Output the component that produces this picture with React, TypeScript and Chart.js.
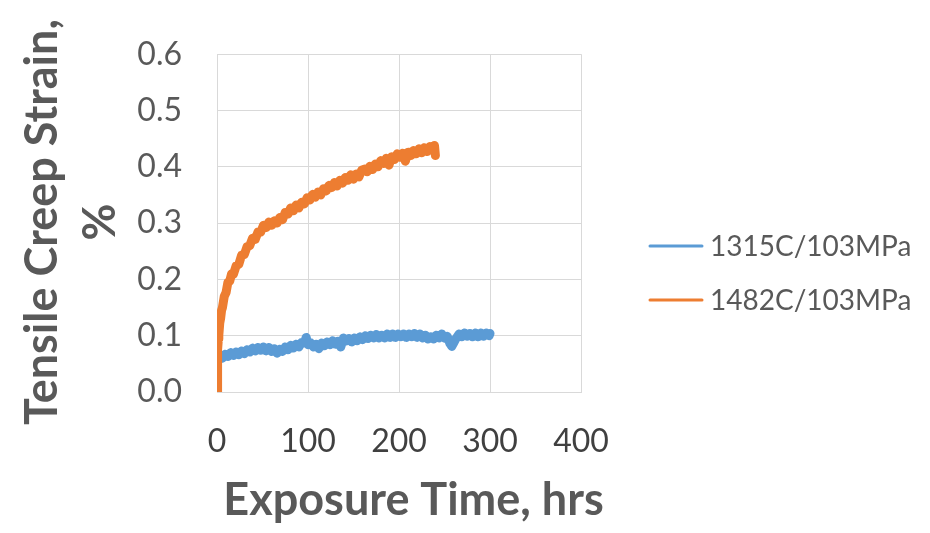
import React, { useEffect, useRef } from "react";
import { Chart, registerables } from "chart.js";

Chart.register(...registerables);

const seriesNames = ["1315C/103MPa", "1482C/103MPa"];
const seriesColors = ["#5B9BD5", "#ED7D31"];
const xTitle = "Exposure Time, hrs";
const yTitle = ["Tensile Creep Strain,", "%"];
const xTickValues = [0, 100, 200, 300, 400];
const yTickValues = [0, 0.1, 0.2, 0.3, 0.4, 0.5, 0.6];

// 1315C/103MPa (blue)
const blueHours = [
  1, 3, 6, 9, 12, 15, 18, 21, 24, 27, 30, 33, 36, 39, 42, 45, 48, 51, 54, 57,
  60, 63, 66, 69, 72, 75, 78, 81, 84, 87, 90, 93, 96, 98, 100, 103, 106, 109, 112, 115,
  118, 121, 124, 127, 130, 133, 136, 139, 142, 145, 148, 151, 154, 157, 160, 163, 166, 169, 172, 175,
  178, 181, 184, 187, 190, 193, 196, 199, 202, 205, 208, 211, 214, 217, 220, 223, 226, 229, 232, 235,
  238, 241, 244, 247, 250, 253, 256, 258, 260, 263, 266, 269, 272, 275, 278, 281, 284, 287, 290, 293,
  296, 299, 300,
];
const blueStrain = [
  0.055, 0.064, 0.06, 0.067, 0.063, 0.07, 0.065, 0.071, 0.066, 0.073, 0.068, 0.075, 0.071, 0.078, 0.073, 0.079, 0.074, 0.08, 0.073, 0.079,
  0.072, 0.077, 0.069, 0.076, 0.072, 0.08, 0.075, 0.083, 0.078, 0.085, 0.08, 0.088, 0.087, 0.097, 0.084, 0.087, 0.08, 0.085, 0.077, 0.087,
  0.082, 0.089, 0.084, 0.091, 0.085, 0.09, 0.08, 0.096, 0.091, 0.095, 0.089, 0.096, 0.091, 0.098, 0.093, 0.1, 0.095, 0.101, 0.096, 0.102,
  0.096, 0.101, 0.096, 0.103, 0.097, 0.103, 0.097, 0.103, 0.098, 0.103, 0.097, 0.103, 0.098, 0.104, 0.097, 0.103, 0.096, 0.101, 0.094, 0.098,
  0.094, 0.101, 0.096, 0.103, 0.096, 0.099, 0.086, 0.081, 0.087, 0.096, 0.103, 0.098, 0.105, 0.099, 0.104, 0.098, 0.105, 0.098, 0.105, 0.099,
  0.105, 0.1, 0.104,
];

// 1482C/103MPa (orange)
const orangeHours = [
  0, 0.3, 0.6, 1, 1.5, 2, 3, 4, 5, 6, 8, 10, 12, 14, 16, 18, 21, 24, 27, 30,
  33, 36, 39, 42, 45, 48, 51, 54, 57, 60, 63, 66, 69, 72, 75, 78, 81, 84, 87, 90,
  93, 96, 99, 102, 105, 108, 111, 114, 117, 120, 123, 126, 129, 132, 135, 138, 141, 144, 147, 150,
  153, 156, 159, 162, 165, 168, 171, 174, 177, 180, 183, 186, 189, 192, 195, 198, 201, 204, 207, 210,
  213, 216, 219, 222, 225, 228, 231, 234, 237, 239, 240,
];
const orangeStrain = [
  0, 0.03, 0.055, 0.075, 0.094, 0.101, 0.122, 0.131, 0.145, 0.15, 0.17, 0.177, 0.195, 0.197, 0.21, 0.209, 0.224, 0.227, 0.243, 0.244,
  0.258, 0.26, 0.273, 0.271, 0.284, 0.284, 0.296, 0.292, 0.302, 0.296, 0.304, 0.3, 0.31, 0.306, 0.319, 0.316, 0.327, 0.322, 0.332, 0.327,
  0.337, 0.334, 0.345, 0.341, 0.351, 0.346, 0.355, 0.35, 0.361, 0.357, 0.367, 0.363, 0.372, 0.366, 0.376, 0.371, 0.381, 0.376, 0.386, 0.378,
  0.387, 0.382, 0.394, 0.396, 0.391, 0.401, 0.395, 0.405, 0.4, 0.411, 0.406, 0.415, 0.403, 0.418, 0.413, 0.423, 0.417, 0.424, 0.41, 0.426,
  0.42, 0.429, 0.423, 0.432, 0.425, 0.434, 0.427, 0.436, 0.43, 0.438, 0.42,
];

const FONT = "Lato, 'Open Sans', sans-serif";
const GRID = "#d9d9d9";
const TITLE_COLOR = "#595959";

export default function App() {
  const canvasRef = useRef<HTMLCanvasElement>(null);

  useEffect(() => {
    const canvas = canvasRef.current;
    if (!canvas) return;

    const sideLegend = {
      id: "sideLegend",
      afterDraw(chart: any) {
        const ctx = chart.ctx as CanvasRenderingContext2D;
        const x0 = 650;
        const x1 = 702;
        const rows = [246, 300];
        ctx.save();
        ctx.font = `28px ${FONT}`;
        ctx.textBaseline = "middle";
        ctx.textAlign = "left";
        seriesNames.forEach((name, i) => {
          const y = rows[i];
          ctx.strokeStyle = seriesColors[i];
          ctx.lineWidth = 3;
          ctx.lineCap = "round";
          ctx.beginPath();
          ctx.moveTo(x0, y);
          ctx.lineTo(x1, y);
          ctx.stroke();
          ctx.fillStyle = "#595959";
          ctx.fillText(name, 710, y + 1);
        });
        ctx.restore();
      },
    };

    const axisTitles = {
      id: "axisTitles",
      afterDraw(chart: any) {
        const ctx = chart.ctx as CanvasRenderingContext2D;
        ctx.save();
        ctx.fillStyle = TITLE_COLOR;
        ctx.font = `bold 45px ${FONT}`;
        ctx.textAlign = "center";
        ctx.textBaseline = "alphabetic";
        ctx.fillText(xTitle, 413.5, 515);
        const baselines = [57, 115];
        yTitle.forEach((line, i) => {
          ctx.save();
          ctx.translate(baselines[i], 222);
          ctx.rotate(-Math.PI / 2);
          ctx.fillText(line, 0, 0);
          ctx.restore();
        });
        ctx.restore();
      },
    };

    const chart = new Chart(canvas, {
      type: "line",
      data: {
        datasets: [
          {
            label: seriesNames[0],
            data: blueHours.map((x, i) => ({ x, y: blueStrain[i] })),
            borderColor: seriesColors[0],
            backgroundColor: seriesColors[0],
            borderWidth: 9,
            pointRadius: 0,
            tension: 0,
            borderJoinStyle: "round",
            borderCapStyle: "round",
            order: 2,
          },
          {
            label: seriesNames[1],
            data: orangeHours.map((x, i) => ({ x, y: orangeStrain[i] })),
            borderColor: seriesColors[1],
            backgroundColor: seriesColors[1],
            borderWidth: 9,
            pointRadius: 0,
            tension: 0,
            borderJoinStyle: "round",
            borderCapStyle: "round",
            order: 1,
          },
        ],
      },
      options: {
        animation: false,
        responsive: false,
        devicePixelRatio: 1,
        layout: { padding: { top: 21, right: 349, left: 0, bottom: 0 } },
        plugins: {
          legend: { display: false },
          tooltip: { enabled: false },
        },
        scales: {
          x: {
            type: "linear",
            min: 0,
            max: 400,
            afterBuildTicks: (s: any) => {
              s.ticks = xTickValues.map((v) => ({ value: v }));
            },
            afterFit: (s: any) => {
              s.height = 141;
            },
            ticks: {
              color: "#404040",
              font: { family: FONT, size: 32 },
              padding: 30,
              maxRotation: 0,
              callback: (v: any) => String(v),
            },
            grid: { color: GRID, lineWidth: 1, drawTicks: false },
            border: { color: GRID, width: 1 },
            title: { display: false, text: xTitle },
          },
          y: {
            type: "linear",
            min: 0,
            max: 0.6,
            afterBuildTicks: (s: any) => {
              s.ticks = yTickValues.map((v) => ({ value: v }));
            },
            afterFit: (s: any) => {
              s.width = 217;
            },
            ticks: {
              color: "#595959",
              font: { family: FONT, size: 32 },
              padding: 35,
              callback: (v: any) => Number(v).toFixed(1),
            },
            grid: { color: GRID, lineWidth: 1, drawTicks: false },
            border: { color: GRID, width: 1 },
            title: { display: false, text: yTitle },
          },
        },
      },
      plugins: [sideLegend, axisTitles],
    } as any);

    return () => chart.destroy();
  }, []);

  return (
    <div style={{ position: "fixed", left: 0, top: 0, width: 930, height: 533, background: "#fff" }}>
      <canvas ref={canvasRef} width={930} height={533} style={{ display: "block" }} />
    </div>
  );
}
